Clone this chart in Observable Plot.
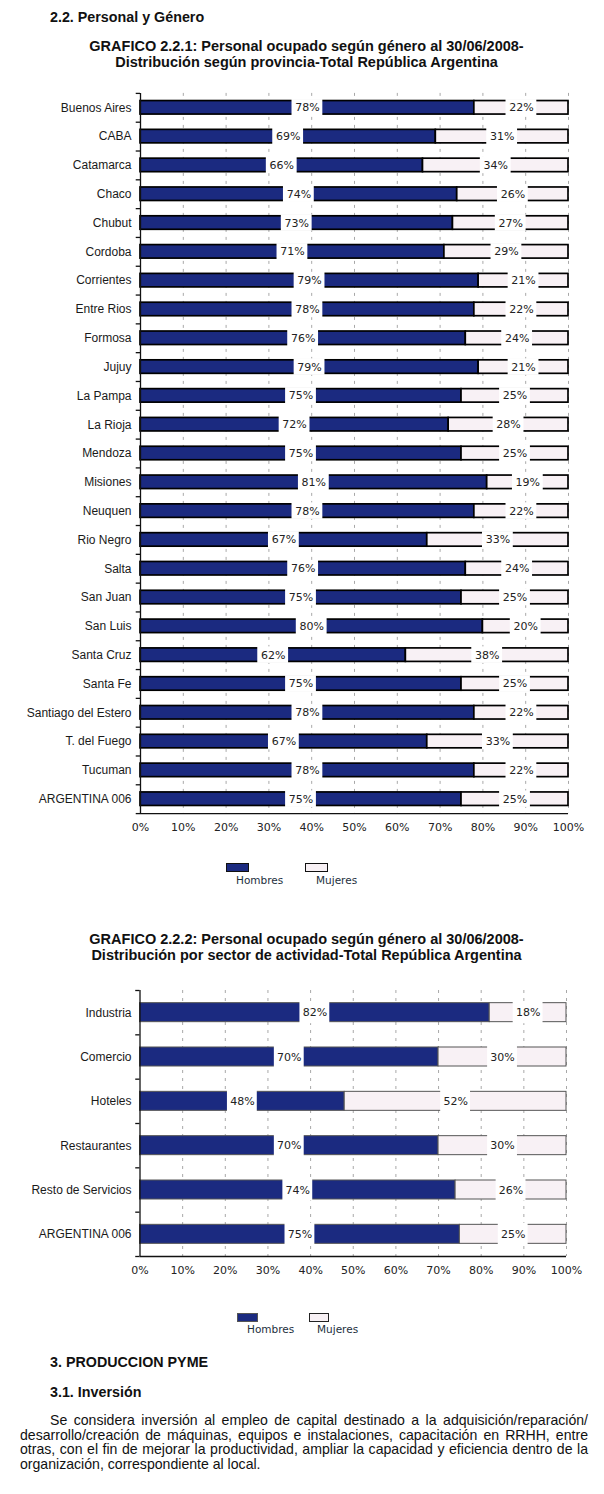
<!DOCTYPE html>
<html><head><meta charset="utf-8">
<script src="https://cdn.jsdelivr.net/npm/d3@7"></script>
<script src="https://cdn.jsdelivr.net/npm/@observablehq/plot@0.6"></script>
<style>
body{margin:0;background:#fff;}
#page{position:relative;width:604px;height:1494px;overflow:hidden;font-family:"Liberation Sans",Arial,sans-serif;color:#111;}
.abs{position:absolute;}
.head{font-weight:bold;font-size:14.3px;line-height:16px;left:50px;}
.title{left:0;width:613px;text-align:center;font-weight:bold;font-size:14.5px;line-height:15.5px;}
.sw{position:absolute;height:9px;box-sizing:border-box;}
.lg{position:absolute;font-family:"DejaVu Sans",sans-serif;font-size:10.5px;color:#1d2f3d;}
.pline{position:absolute;left:20px;width:568px;font-size:14.1px;line-height:15px;text-align:justify;text-align-last:justify;white-space:nowrap;}
</style></head>
<body><div id="page">
<div class="abs head" style="top:9px;">2.2. Personal y Género</div>
<div class="abs title" style="top:39px;">GRAFICO 2.2.1: Personal ocupado según género al 30/06/2008-<br>Distribución según provincia-Total República Argentina</div>
<div id="c1" class="abs" style="left:0;top:80px;"></div>
<div class="sw" style="left:226px;top:863px;width:23px;background:#1b2a80;border:1px solid #111;"></div>
<div class="lg" style="left:236px;top:874px;">Hombres</div>
<div class="sw" style="left:305px;top:863px;width:23px;background:#f8f1f5;border:1.5px solid #111;"></div>
<div class="lg" style="left:316px;top:874px;">Mujeres</div>

<div class="abs title" style="top:932px;">GRAFICO 2.2.2: Personal ocupado según género al 30/06/2008-<br>Distribución por sector de actividad-Total República Argentina</div>
<div id="c2" class="abs" style="left:0;top:970px;"></div>
<div class="sw" style="left:237px;top:1313px;width:21px;background:#1b2a80;border:1px solid #555;"></div>
<div class="lg" style="left:247px;top:1323px;">Hombres</div>
<div class="sw" style="left:309px;top:1313px;width:20px;background:#f8f1f5;border:1.5px solid #222;"></div>
<div class="lg" style="left:317px;top:1323px;">Mujeres</div>

<div class="abs head" style="top:1354px;">3. PRODUCCION PYME</div>
<div class="abs head" style="top:1384px;">3.1. Inversión</div>
<div class="pline" style="top:1413px;left:50px;width:538px;">Se considera inversión al empleo de capital destinado a la adquisición/reparación/</div>
<div class="pline" style="top:1428px;">desarrollo/creación de máquinas, equipos e instalaciones, capacitación en RRHH, entre</div>
<div class="pline" style="top:1442px;">otras, con el fin de mejorar la productividad, ampliar la capacidad y eficiencia dentro de la</div>
<div class="pline" style="top:1457px;text-align:left;text-align-last:left;">organización, correspondiente al local.</div>
</div>
<script>
// ---- Data: chart 2.2.1 (provincias) ----
const provincias = ["Buenos Aires","CABA","Catamarca","Chaco","Chubut","Cordoba","Corrientes","Entre Rios","Formosa","Jujuy","La Pampa","La Rioja","Mendoza","Misiones","Neuquen","Rio Negro","Salta","San Juan","San Luis","Santa Cruz","Santa Fe","Santiago del Estero","T. del Fuego","Tucuman","ARGENTINA 006"];
const hombresProv = [78,69,66,74,73,71,79,78,76,79,75,72,75,81,78,67,76,75,80,62,75,78,67,78,75];
const mujeresProv = [22,31,34,26,27,29,21,22,24,21,25,28,25,19,22,33,24,25,20,38,25,22,33,22,25];

// ---- Data: chart 2.2.2 (sectores) ----
const sectores = ["Industria","Comercio","Hoteles","Restaurantes","Resto de Servicios","ARGENTINA 006"];
const hombresSec = [82,70,48,70,74,75];
const mujeresSec = [18,30,52,30,26,25];

const xTicks = [0,10,20,30,40,50,60,70,80,90,100];
const generos = ["Hombres","Mujeres"];

function table(cats, h, m) {
  const rows = [];
  cats.forEach((c, i) => {
    rows.push({cat: c, genero: "Hombres", value: h[i], start: 0});
    rows.push({cat: c, genero: "Mujeres", value: m[i], start: h[i]});
  });
  return rows;
}

function chart(cats, h, m, o) {
  const data = table(cats, h, m);
  const plotH = o.height - o.mt - o.mb;
  const step = plotH / cats.length;
  const barInset = (step - o.barH) / 2;
  const last = cats[cats.length - 1];
  const mid = d => d.start + d.value / 2;
  return Plot.plot({
    width: 604, height: o.height,
    marginLeft: o.ml, marginRight: o.mr, marginTop: o.mt, marginBottom: o.mb,
    style: {fontFamily: "Liberation Sans, Arial, sans-serif", background: "transparent", overflow: "visible"},
    x: {domain: [0, 100], axis: null},
    y: {domain: cats, padding: 0, round: false, axis: null},
    color: {domain: generos, range: ["#1b2a80", "#f8f1f5"]},
    marks: [
      Plot.ruleX(xTicks.slice(1), {stroke: "#a8a8a8", strokeWidth: 1, strokeDasharray: "3,5"}),
      Plot.barX(data, {x1: "start", x2: d => d.start + d.value, y: "cat", fill: "genero",
        stroke: o.stroke, strokeWidth: o.strokeWidth, insetTop: barInset, insetBottom: barInset}),
      Plot.barX(data, {x1: d => mid(d) - o.boxHalf, x2: d => mid(d) + o.boxHalf, y: "cat", fill: "white",
        insetTop: barInset - 1.5, insetBottom: barInset - 1.5}),
      Plot.text(data, {x: mid, y: "cat", text: d => d.value + "%", fill: "#222",
        fontFamily: "DejaVu Sans, sans-serif", fontSize: 11}),
      Plot.ruleX([0], {stroke: "#111", strokeWidth: 1.3}),
      Plot.ruleY(cats, {y: d => d, dy: -step / 2, x1: -1, x2: 0, stroke: "#111", strokeWidth: 1.3}),
      Plot.ruleY([last], {y: d => d, dy: step / 2, x1: -1, x2: 0, stroke: "#111", strokeWidth: 1.3}),
      Plot.ruleY([last], {y: d => d, dy: step / 2, x1: 0, x2: 100, stroke: "#111", strokeWidth: 1.3}),
      Plot.axisY({tickSize: 0, tickPadding: o.ml - o.labelRight, fontSize: 12, fill: "#1a1a1a",
        fontFamily: "Liberation Sans, Arial, sans-serif", label: null}),
      Plot.axisX({ticks: xTicks, tickFormat: d => d + "%", tickSize: 0, tickPadding: o.tickPad, fontSize: 11,
        fontFamily: "DejaVu Sans, sans-serif", fill: "#222", label: null}),
      Plot.tickX(xTicks, {x: d => d, y: last, dy: step / 2 + 2, stroke: "#111", strokeWidth: 1.3,
        insetTop: step / 2 - 2, insetBottom: step / 2 - 2})
    ]
  });
}

document.getElementById("c1").append(chart(provincias, hombresProv, mujeresProv,
  {height: 780, mt: 12.9, mb: 46.9, ml: 140, mr: 36, barH: 13.5, stroke: "#000", strokeWidth: 1.7,
   boxHalf: 3.6, labelRight: 131, tickPad: 10}));
document.getElementById("c2").append(chart(sectores, hombresSec, mujeresSec,
  {height: 330, mt: 20, mb: 44, ml: 139.5, mr: 38, barH: 19, stroke: "#555", strokeWidth: 1,
   boxHalf: 3.5, labelRight: 131, tickPad: 10}));
</script>
</body></html>
